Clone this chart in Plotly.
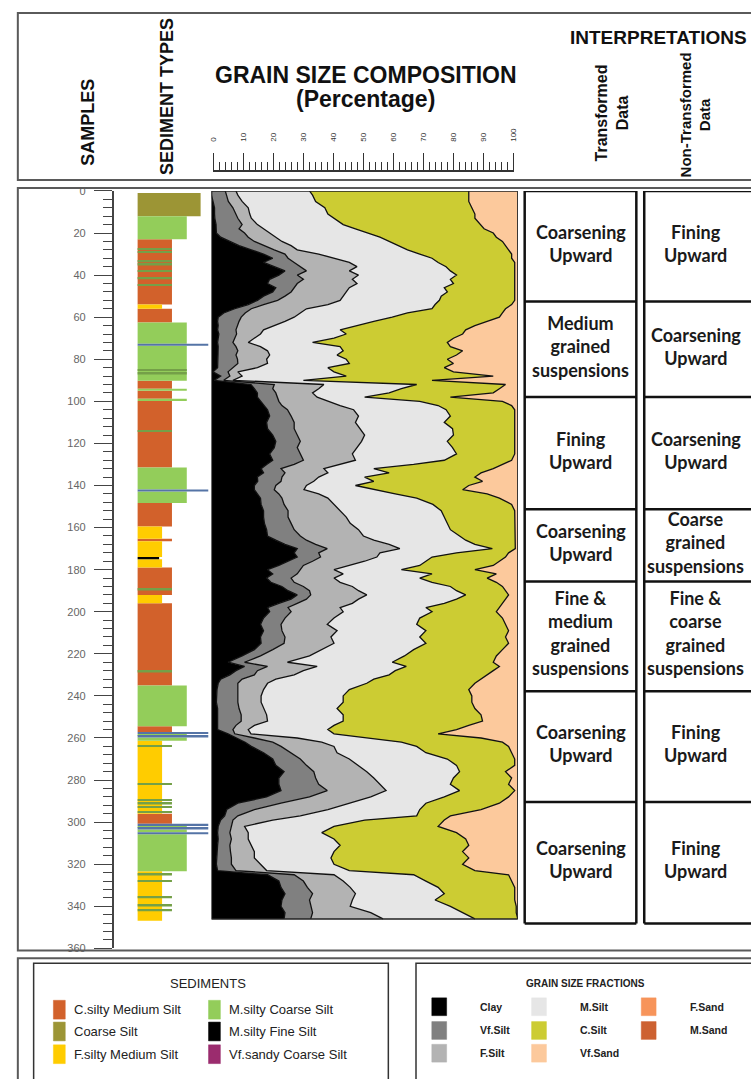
import plotly.graph_objects as go

W, H = 751, 1079

# ---------------- DATA ----------------
# sample depth (sample number) and cumulative grain-size percentages (boundaries)
depth = [0, 2, 5, 8, 11, 13, 16, 18, 20, 22, 24, 26, 28, 30, 32, 34, 36, 38, 40, 42, 44, 46, 48, 50,
         52, 54, 56, 58, 60, 62, 64, 66, 68, 70, 72, 74, 76, 78, 80, 82, 84, 86, 88, 90, 92, 94, 96,
         98, 100, 102, 104, 107, 110, 113, 116, 119, 122, 125, 128, 130, 132, 134, 136, 138, 140, 142,
         144, 146, 149, 152, 155, 158, 161, 164, 166, 168, 170, 172, 174, 176, 178, 180, 182, 184, 186,
         188, 190, 192, 194, 196, 198, 200, 203, 206, 209, 212, 215, 218, 221, 224, 226, 228, 230, 232,
         234, 237, 240, 243, 246, 249, 252, 254, 256, 258, 260, 262, 264, 267, 270, 273, 276, 279, 282,
         285, 288, 291, 294, 297, 299, 302, 305, 308, 311, 314, 317, 320, 323, 325, 328, 331, 334, 337,
         340, 343, 346]
clay_cum = [0, 0, 0.5, 1, 1, 1.1, 1.5, 1.5, 1.6, 3, 6, 9, 13, 17, 20, 17, 20.5, 24, 22, 19, 18.3, 21, 20, 17,
            15, 12, 7.6, 4, 2.2, 2, 2.2, 2, 2.4, 2.2, 2, 2.2, 2.2, 2, 2.2, 2.2, 2, 0.5, 3, 1, 12.9, 14, 15,
            15, 16, 17, 18.3, 19, 18, 18.3, 20, 21, 20.5, 19, 20, 18, 16.2, 17, 15, 15.1, 14, 14,
            15, 16, 16.2, 17, 17, 17.3, 18, 18.3, 21, 24, 28, 27, 28, 25, 22, 18.3, 20, 18, 19.4,
            23, 25, 28, 26, 22, 18.3, 19, 17, 16, 17, 16, 16.2, 14, 10, 5.4, 10.8, 8, 6, 3,
            2.2, 1.8, 1.6, 1.6, 2, 2, 2.2, 2, 2, 5.4, 8, 11, 13, 17, 20, 21, 23.7, 22, 22,
            22.7, 18, 8.6, 5, 4.3, 3, 2.2, 2, 2.2, 2, 1.8, 1.6, 1.6, 2, 18.3, 22, 22.7, 24, 23,
            22.7, 24, 23.7]
vfsilt_cum = [4.5, 5, 5.5, 7, 8, 8.6, 10, 9, 10.8, 12, 14, 17, 20.5, 24, 25, 27, 29, 31, 28, 30, 28, 27, 26, 24,
              21.6, 17, 13, 11, 9.7, 9, 8.6, 8, 8.2, 7.6, 7, 8, 8.6, 8, 8.5, 8.6, 7, 5.4, 6, 4, 20.5, 20, 21,
              21.6, 22, 23, 24.8, 26, 27, 27, 28, 29, 28, 29, 30, 27, 22.7, 24, 23, 22.7, 21, 20.5,
              22, 23, 23.7, 25, 25, 26, 27, 29, 31, 34, 37.8, 35, 35.6, 33, 30, 29, 28, 26, 27,
              30, 32, 32.4, 31, 28, 25, 26, 24, 22.7, 23, 24, 23.7, 20, 16, 10.8, 18.3, 15, 14, 10,
              8.6, 8.6, 8.6, 8.6, 9, 9.7, 9.7, 8, 7, 7.6, 14, 20, 22.7, 26, 29, 31, 33.4, 34, 35,
              37.8, 32, 22.7, 14, 8.6, 7, 6.5, 6, 6.5, 6, 6.2, 6.5, 6.5, 8, 27, 30, 31.3, 33, 32,
              32.4, 33, 32.4]
fsilt_cum = [8, 8.6, 10, 12, 12.5, 13, 15, 17, 19.4, 21, 23, 26, 28, 35, 40, 45, 47.5, 45, 48, 46, 47.5, 45, 44, 43,
             42, 38, 31, 29, 27, 24, 20.5, 17, 16, 14, 12, 16, 18.3, 19, 18, 18.3, 15, 8.6, 10, 7, 36.7, 35, 33,
             34.5, 38, 42, 46.4, 48, 47, 48.5, 50, 49, 47.5, 46, 47, 42, 36.7, 38, 35, 33.4, 31, 30.2,
             35, 38, 39.9, 42, 44, 45.3, 48, 49.6, 53, 58, 61.5, 55, 54, 50, 45, 40, 43, 40, 42,
             46, 48, 50.7, 48, 46, 42, 43, 40, 37.8, 41, 39, 40, 36, 32, 24.8, 34.5, 30, 27, 21,
             18.3, 17, 16.2, 16.2, 17, 18, 18.3, 14, 12, 12.9, 28, 36, 40, 41, 45, 48, 50.7, 53, 55,
             57, 52, 45, 38, 29, 20, 10.8, 12, 12, 13, 14, 14, 16, 18, 40, 43, 45.3, 47, 46,
             45.3, 52, 56]
msilt_cum = [32, 33, 34, 37, 38, 40, 43, 47, 51, 55, 58, 61, 64, 68, 72, 74, 76.6, 78, 80, 78, 79, 76, 77, 75,
             74.4, 73, 72, 64, 59, 53, 47.5, 42, 44, 40, 33, 42, 43, 41, 44, 45, 38, 40, 44, 30, 67, 62, 58,
             50, 68, 74, 76.6, 78, 76, 78.7, 79, 77, 78.7, 80, 76, 66, 53, 58, 50, 53, 47, 53,
             60, 67, 72.3, 75, 76, 77, 78, 81, 83, 86, 91.7, 80, 72, 70, 68, 62, 72, 68, 72,
             78, 80, 83, 80, 76, 70, 72, 68, 67, 70, 68, 70, 66, 63, 59, 63.6, 60, 58, 53,
             50.7, 45, 43, 43, 41, 43, 43, 40, 38, 40, 52, 62, 67, 70, 77, 80, 81, 79, 78,
             81, 76, 70, 68, 67, 50, 40, 36, 40, 42, 40, 39, 40, 45, 66, 70, 74, 76, 73,
             78, 82, 86]
csilt_cum = [84, 84, 84, 85, 86, 86, 88, 89, 92, 93, 95, 96, 97, 98, 98, 99, 99, 99, 99, 99, 99, 99, 99, 99,
             99, 98, 96, 95, 94, 90, 86, 83, 82, 79, 77, 78, 82, 80, 77, 79, 76, 79, 92, 72, 96, 94, 92,
             78, 95, 98, 99, 99, 99, 99, 99, 99, 99, 99, 98, 95, 92, 88, 86, 88.5, 84, 82,
             90, 94, 98, 99, 99, 99, 99, 99, 99, 99, 99.2, 97, 96, 94, 92, 86, 93, 90, 93,
             95, 96, 97, 96, 95, 94, 93, 95, 96, 97, 96, 97, 95, 93, 92, 94, 92, 90, 88,
             86, 84, 85, 85, 86, 88, 88.5, 84, 80, 74, 88, 95, 97, 98, 99, 99, 96, 98, 97,
             99, 97, 94, 88, 78, 76, 74, 80, 83, 84, 82, 84, 82, 86, 97, 98, 99, 99, 99,
             99.5, 99.5, 100]

fraction_names = ["Clay", "Vf.Silt", "F.Silt", "M.Silt", "C.Silt", "Vf.Sand", "F.Sand", "M.Sand"]

# sediment column layers (sample top, sample bottom, type)
sed_top = [1, 12, 23, 54, 56, 62.5, 72.6, 73.6, 90.2, 94, 95, 98.8, 99.8, 131.4, 141.9, 142.9, 148.3,
           159.5, 165.3, 166.5, 174, 175, 179, 192, 196, 235, 254.4, 257.2, 258.1, 258.9, 259.8,
           261.3, 296, 300.8, 301.8, 302.6, 303.5, 304.8, 305.8, 323.3]
sed_bot = [12, 23, 54, 56, 62.5, 72.6, 73.6, 90.2, 94, 95, 98.8, 99.8, 131.4, 141.9, 142.9, 148.3, 159.5,
           165.3, 166.5, 174, 175, 179, 192, 196, 235, 254.4, 257.2, 258.1, 258.9, 259.8, 261.3,
           296, 300.8, 301.8, 302.6, 303.5, 304.8, 305.8, 323.3, 346.8]
sed_type = ["Coarse Silt", "M.silty Coarse Silt", "C.silty Medium Silt", "F.silty Medium Silt",
            "C.silty Medium Silt", "M.silty Coarse Silt", "Vf.sandy Coarse Silt", "M.silty Coarse Silt",
            "C.silty Medium Silt", "M.silty Coarse Silt", "C.silty Medium Silt", "M.silty Coarse Silt",
            "C.silty Medium Silt", "M.silty Coarse Silt", "Vf.sandy Coarse Silt", "M.silty Coarse Silt",
            "C.silty Medium Silt", "F.silty Medium Silt", "C.silty Medium Silt", "F.silty Medium Silt",
            "M.silty Fine Silt", "F.silty Medium Silt", "C.silty Medium Silt", "F.silty Medium Silt",
            "C.silty Medium Silt", "M.silty Coarse Silt", "C.silty Medium Silt", "Vf.sandy Coarse Silt",
            "M.silty Coarse Silt", "Vf.sandy Coarse Silt", "M.silty Coarse Silt", "F.silty Medium Silt",
            "C.silty Medium Silt", "Vf.sandy Coarse Silt", "M.silty Coarse Silt", "Vf.sandy Coarse Silt",
            "M.silty Coarse Silt", "Vf.sandy Coarse Silt", "M.silty Coarse Silt", "F.silty Medium Silt"]
# thin seams inside layers (sample, host type giving their length)
seam_depth = [27.5, 29, 33.5, 35, 38, 41.6, 44.6, 85.2, 86.8, 114.2, 189.5, 228.5, 263.8,
              281.8, 289.6, 291.2, 292.8, 295.1, 324.9, 328, 335.8, 339.7, 342]
seam_host = ["C.silty Medium Silt"] * 7 + ["M.silty Coarse Silt"] * 2 + ["C.silty Medium Silt"] * 14

sediment_names = ["C.silty Medium Silt", "Coarse Silt", "F.silty Medium Silt",
                  "M.silty Coarse Silt", "M.silty Fine Silt", "Vf.sandy Coarse Silt"]

# interpretation zones (sample boundaries) and labels
interp_bounds = [0, 52.5, 98, 151.3, 185.6, 237.8, 290.4, 348.2]
interp_transformed = ["Coarsening<br>Upward", "Medium<br>grained<br>suspensions", "Fining<br>Upward",
                      "Coarsening<br>Upward", "Fine &<br>medium<br>grained<br>suspensions",
                      "Coarsening<br>Upward", "Coarsening<br>Upward"]
interp_nontransformed = ["Fining<br>Upward", "Coarsening<br>Upward", "Coarsening<br>Upward",
                         "Coarse<br>grained<br>suspensions", "Fine &<br>coarse<br>grained<br>suspensions",
                         "Fining<br>Upward", "Fining<br>Upward"]

sample_ticks = list(range(0, 361, 20))
percent_ticks = list(range(0, 101, 10))

# ---------------- STYLE ----------------
frac_colors = {"Clay": "#000000", "Vf.Silt": "#808080", "F.Silt": "#b3b3b3", "M.Silt": "#e6e6e6",
               "C.Silt": "#cccc33", "Vf.Sand": "#fcc99c", "F.Sand": "#f7945a", "M.Sand": "#cd6131"}
sed_colors = {"C.silty Medium Silt": "#d2612b", "Coarse Silt": "#9c9535", "F.silty Medium Silt": "#ffcc00",
              "M.silty Coarse Silt": "#93cd5a", "M.silty Fine Silt": "#000000",
              "Vf.sandy Coarse Silt": "#9b2c6e"}
sed_plot_colors = dict(sed_colors)
sed_plot_colors["Vf.sandy Coarse Silt"] = "#5574a6"
sed_len = {"F.silty Medium Silt": 25, "C.silty Medium Silt": 35, "M.silty Coarse Silt": 50,
           "Coarse Silt": 64, "M.silty Fine Silt": 22, "Vf.sandy Coarse Silt": 72}
seam_color = "#74a048"

SANS = "Liberation Sans, Arial, sans-serif"
CELL = "Lato, Open Sans, sans-serif"


def px(x):
    return x / W


def py(y):
    return 1 - y / H


fig = go.Figure()

# ---- grain size composition (stacked areas) ----
cums = [clay_cum, vfsilt_cum, fsilt_cum, msilt_cum, csilt_cum]
for i, (name, cum) in enumerate(zip(fraction_names[:5], cums)):
    fig.add_trace(go.Scatter(
        x=cum, y=depth, xaxis="x2", yaxis="y", mode="lines",
        line=dict(color="#111111", width=1.3),
        fill="tozerox" if i == 0 else "tonextx",
        fillcolor=frac_colors[name], name=name, showlegend=False, hoverinfo="skip"))
fig.add_trace(go.Scatter(
    x=[100] * len(depth), y=depth, xaxis="x2", yaxis="y", mode="lines",
    line=dict(color="#333333", width=1), fill="tonextx",
    fillcolor=frac_colors["Vf.Sand"], name="Vf.Sand", showlegend=False, hoverinfo="skip"))

# ---- sediment column ----
order = ["C.silty Medium Silt", "Coarse Silt", "F.silty Medium Silt", "M.silty Coarse Silt",
         "M.silty Fine Silt", "Vf.sandy Coarse Silt"]
for t in order:
    ys, ws, xs = [], [], []
    for a, b, tt in zip(sed_top, sed_bot, sed_type):
        if tt == t:
            ys.append((a + b) / 2)
            ws.append(b - a)
            xs.append(sed_len[t])
    if ys:
        fig.add_trace(go.Bar(
            x=xs, y=ys, width=ws, orientation="h", base=0, xaxis="x", yaxis="y",
            marker=dict(color=sed_plot_colors[t], line=dict(width=0)),
            name=t, showlegend=False, hoverinfo="skip"))
fig.add_trace(go.Bar(
    x=[sed_len[h] for h in seam_host], y=seam_depth, width=[0.8] * len(seam_depth),
    orientation="h", base=0, xaxis="x", yaxis="y",
    marker=dict(color=seam_color, line=dict(width=0)), showlegend=False, hoverinfo="skip"))

# ---- dummy trace for header percentage ruler ----
fig.add_trace(go.Scatter(x=[0, 100], y=[0, 0], xaxis="x3", yaxis="y", mode="markers",
                         marker=dict(opacity=0), showlegend=False, hoverinfo="skip"))

shapes = []
annotations = []


def rect(x0, y0, x1, y1, line_color="#000", lw=1.0, fill=None):
    shapes.append(dict(type="rect", xref="paper", yref="paper", x0=px(x0), x1=px(x1),
                       y0=py(y0), y1=py(y1), line=dict(color=line_color, width=lw),
                       fillcolor=fill if fill else "rgba(0,0,0,0)", layer="above"))


def text(x, y, s, size, family=SANS, color="#111", angle=0, xanchor="center", bold=False):
    annotations.append(dict(x=px(x), y=py(y), xref="paper", yref="paper", text=s, showarrow=False,
                            font=dict(size=size, family=family, color=color,
                                      weight="bold" if bold else "normal"),
                            textangle=angle, xanchor=xanchor, yanchor="middle", align="center"))


# header box
rect(14, 7, 770, 176, "#5a5a5a", 2)
text(85, 117, "SAMPLES", 18, SANS, angle=-90, bold=True)
text(165, 92, "SEDIMENT TYPES", 18, SANS, angle=-90, bold=True)
text(366, 70, "GRAIN SIZE COMPOSITION", 23, SANS, bold=True)
text(366, 94, "(Percentage)", 23, SANS, bold=True)
text(662, 32, "INTERPRETATIONS", 19, SANS, bold=True)
text(615, 108, "Transformed<br>Data", 16, SANS, angle=-90, bold=True)
text(700, 110, "Non-Transformed<br>Data", 15, SANS, angle=-90, bold=True)

# main box
rect(14, 184, 770, 955, "#5a5a5a", 2)

# composition panel frame
shapes.append(dict(type="rect", xref="x2", yref="y", x0=0, x1=100, y0=0, y1=depth[-1],
                   line=dict(color="#222", width=1.5), fillcolor="rgba(0,0,0,0)", layer="above"))

# interpretation table
tbl_cols = [(527, 640), (648, 768)]
for (xa, xb), labels in zip(tbl_cols, [interp_transformed, interp_nontransformed]):
    for xv in (xa, xb):
        shapes.append(dict(type="line", xref="paper", yref="y", x0=px(xv), x1=px(xv),
                           y0=interp_bounds[0], y1=interp_bounds[-1],
                           line=dict(color="#111", width=2.5), layer="above"))
    for b in interp_bounds:
        shapes.append(dict(type="line", xref="paper", yref="y", x0=px(xa), x1=px(xb),
                           y0=b, y1=b, line=dict(color="#111", width=2.5), layer="above"))
    cx = (xa + xb) / 2 if xb < 700 else 700
    for i, lab in enumerate(labels):
        annotations.append(dict(x=px(cx), y=(interp_bounds[i] + interp_bounds[i + 1]) / 2 - 1.5,
                                xref="paper", yref="y", text=lab, showarrow=False,
                                font=dict(size=18, family=CELL, color="#1a1a1a", weight="bold"),
                                xanchor="center", yanchor="middle", align="center"))

# legends
rect(14, 963, 770, 1095, "#5a5a5a", 2)
rect(30, 968, 389, 1095, "#333", 1.5)
rect(417, 968, 770, 1095, "#333", 1.5)
text(206, 988, "SEDIMENTS", 13, SANS, color="#222")
sed_leg_pos = [(50, 1015), (50, 1037), (50, 1060), (207, 1015), (207, 1037), (207, 1060)]
for name, (sx, sy) in zip(sediment_names, sed_leg_pos):
    rect(sx, sy - 9.5, sx + 12, sy + 9.5, sed_colors[name], 0.5, sed_colors[name])
    text(sx + 19, sy, name, 13, SANS, color="#222", xanchor="left")

text(589, 988, "GRAIN SIZE FRACTIONS", 10, SANS, color="#222", bold=True)
frac_leg_pos = [(433, 1012), (433, 1036), (433, 1059), (534, 1012), (534, 1036), (534, 1059),
                (645, 1012), (645, 1036)]
for name, (sx, sy) in zip(fraction_names, frac_leg_pos):
    rect(sx, sy - 9, sx + 15, sy + 9, frac_colors[name], 0.5, frac_colors[name])
    text(sx + 47, sy, name, 10.5, SANS, color="#222", xanchor="left", bold=True)

fig.update_layout(
    width=W, height=H, margin=dict(l=0, r=0, t=0, b=0),
    paper_bgcolor="white", plot_bgcolor="rgba(0,0,0,0)", barmode="overlay", showlegend=False,
    shapes=shapes, annotations=annotations,
    yaxis=dict(domain=[py(953), py(187)], range=[360, 0], anchor="free", position=px(110),
               side="left", showline=True, linecolor="#444", linewidth=1.5,
               ticks="outside", ticklen=18, tickwidth=1.2, tickcolor="#444",
               tickvals=sample_ticks, ticklabelstandoff=6,
               tickfont=dict(size=11, family=SANS, color="#666"),
               minor=dict(dtick=4, tick0=0, ticks="outside", ticklen=9, tickcolor="#444", tickwidth=1),
               showgrid=False, zeroline=False),
    xaxis=dict(domain=[px(135), px(207)], range=[0, 72], anchor="y", visible=False),
    xaxis2=dict(domain=[px(210), px(520)], range=[0, 100], anchor="y", visible=False),
    xaxis3=dict(domain=[px(212), px(516)], range=[0, 100], anchor="free", position=py(167),
                side="top", showline=True, linecolor="#333", linewidth=1.5,
                ticks="outside", ticklen=17, tickwidth=1, tickcolor="#333",
                tickvals=percent_ticks, tickangle=-90, ticklabelstandoff=10,
                tickfont=dict(size=8, family=SANS, color="#333"),
                minor=dict(dtick=2, tick0=0, ticks="outside", ticklen=8, tickcolor="#333", tickwidth=1),
                showgrid=False, zeroline=False),
)

fig.write_html("out.html")
